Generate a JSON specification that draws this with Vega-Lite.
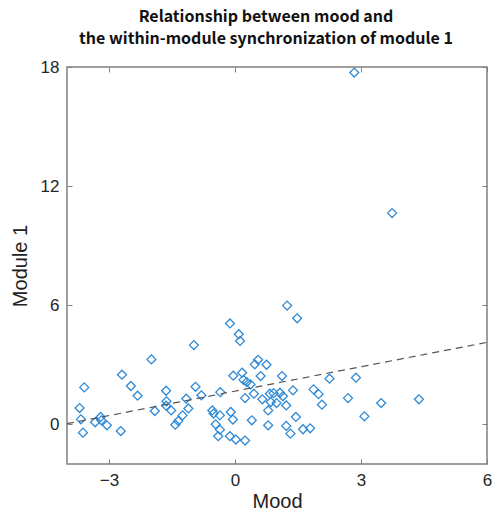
{
  "$schema": "https://vega.github.io/schema/vega-lite/v6.json",
  "width": 420,
  "height": 397,
  "autosize": {"type": "none"},
  "padding": {"left": 67, "top": 67, "right": 8, "bottom": 48},
  "background": "white",
  "config": {
    "view": {"stroke": "#808080", "strokeWidth": 1.5},
    "font": "Liberation Sans"
  },
  "title": {
    "text": ["Relationship between mood and", "the within-module synchronization of module 1"],
    "font": "Noto Sans CJK KR",
    "fontWeight": "bold",
    "fontSize": 16,
    "lineHeight": 22,
    "color": "#111111",
    "anchor": "middle",
    "frame": "group",
    "dx": -11,
    "offset": 11
  },
  "datasets": {
    "pts": [
      {"mood": -3.70, "module1": 0.82}, {"mood": -3.67, "module1": 0.25}, {"mood": -3.62, "module1": -0.42},
      {"mood": -3.59, "module1": 1.86}, {"mood": -3.33, "module1": 0.10}, {"mood": -3.20, "module1": 0.37},
      {"mood": -3.18, "module1": 0.20}, {"mood": -3.05, "module1": -0.05}, {"mood": -2.72, "module1": -0.34},
      {"mood": -2.69, "module1": 2.50}, {"mood": -2.48, "module1": 1.93}, {"mood": -2.32, "module1": 1.44},
      {"mood": -1.99, "module1": 3.27}, {"mood": -1.91, "module1": 0.67}, {"mood": -1.64, "module1": 1.69},
      {"mood": -1.63, "module1": 1.16}, {"mood": -1.64, "module1": 0.94}, {"mood": -1.52, "module1": 0.70},
      {"mood": -1.42, "module1": -0.02}, {"mood": -1.35, "module1": 0.17}, {"mood": -1.25, "module1": 0.45},
      {"mood": -1.16, "module1": 1.29}, {"mood": -1.11, "module1": 0.80}, {"mood": -0.98, "module1": 3.99},
      {"mood": -0.94, "module1": 1.89}, {"mood": -0.80, "module1": 1.46}, {"mood": -0.54, "module1": 0.70},
      {"mood": -0.51, "module1": 0.54}, {"mood": -0.46, "module1": 0.00}, {"mood": -0.36, "module1": -0.27},
      {"mood": -0.40, "module1": -0.60}, {"mood": -0.36, "module1": 0.45}, {"mood": -0.35, "module1": 1.62},
      {"mood": -0.10, "module1": 0.62}, {"mood": -0.05, "module1": 0.24}, {"mood": -0.12, "module1": -0.60},
      {"mood": 0.02, "module1": -0.77}, {"mood": 0.24, "module1": -0.82}, {"mood": -0.12, "module1": 5.08},
      {"mood": 0.09, "module1": 4.54}, {"mood": 0.12, "module1": 4.20}, {"mood": -0.04, "module1": 2.45},
      {"mood": 0.17, "module1": 2.60}, {"mood": 0.20, "module1": 2.24}, {"mood": 0.28, "module1": 2.13},
      {"mood": 0.37, "module1": 2.01}, {"mood": 0.24, "module1": 1.32}, {"mood": 0.45, "module1": 1.54},
      {"mood": 0.40, "module1": 0.20}, {"mood": 0.47, "module1": 3.02}, {"mood": 0.55, "module1": 3.25},
      {"mood": 0.61, "module1": 2.43}, {"mood": 0.75, "module1": 3.00}, {"mood": 0.65, "module1": 1.26},
      {"mood": 0.79, "module1": -0.05}, {"mood": 0.79, "module1": 0.70}, {"mood": 0.85, "module1": 1.12},
      {"mood": 0.83, "module1": 1.54}, {"mood": 0.92, "module1": 1.57}, {"mood": 1.07, "module1": 1.59},
      {"mood": 1.14, "module1": 1.41}, {"mood": 0.99, "module1": 1.07}, {"mood": 1.22, "module1": 0.95},
      {"mood": 1.12, "module1": 2.43}, {"mood": 1.24, "module1": 5.98}, {"mood": 1.48, "module1": 5.34},
      {"mood": 1.38, "module1": 1.71}, {"mood": 1.87, "module1": 1.76}, {"mood": 1.99, "module1": 1.52},
      {"mood": 2.07, "module1": 0.99}, {"mood": 2.25, "module1": 2.30}, {"mood": 2.69, "module1": 1.32},
      {"mood": 2.88, "module1": 2.35}, {"mood": 3.08, "module1": 0.40}, {"mood": 3.48, "module1": 1.07},
      {"mood": 4.38, "module1": 1.26}, {"mood": 1.45, "module1": 0.37}, {"mood": 1.22, "module1": -0.08},
      {"mood": 1.32, "module1": -0.47}, {"mood": 1.62, "module1": -0.25}, {"mood": 1.79, "module1": -0.20},
      {"mood": 2.84, "module1": 17.72}, {"mood": 3.74, "module1": 10.64}
    ],
    "fit": [
      {"mood": -4, "module1": 0.03},
      {"mood": 6, "module1": 4.13}
    ]
  },
  "resolve": {"axis": {"x": "independent", "y": "independent"}},
  "layer": [
    {
      "data": {"name": "pts"},
      "mark": {"type": "point", "shape": "diamond", "size": 80, "filled": false, "stroke": "#2f8ad6", "strokeWidth": 1.3, "opacity": 1},
      "encoding": {
        "x": {"field": "mood", "type": "quantitative", "scale": {"domain": [-4, 6], "nice": false, "zero": false},
          "axis": {"orient": "bottom", "values": [-3, 0, 3, 6], "title": "Mood", "titleFont": "Liberation Sans", "titleFontSize": 20, "titleFontWeight": "normal", "titleColor": "#222222", "titlePadding": 3,
            "labelFontSize": 17, "labelColor": "#262626", "labelPadding": 13, "labelFlush": false, "labelExpr": "replace(datum.label, '-', '−')",
            "tickSize": -5, "tickColor": "#808080", "domain": false, "grid": false}},
        "y": {"field": "module1", "type": "quantitative", "scale": {"domain": [-2, 18], "nice": false, "zero": false},
          "axis": {"orient": "left", "values": [0, 6, 12, 18], "title": "Module 1", "titleFont": "Liberation Sans", "titleFontSize": 20, "titleFontWeight": "normal", "titleColor": "#222222", "titlePadding": 10,
            "labelFontSize": 17, "labelColor": "#262626", "labelPadding": 13, "labelFlush": false,
            "tickSize": -5, "tickColor": "#808080", "domain": false, "grid": false}}
      }
    },
    {
      "data": {"name": "fit"},
      "mark": {"type": "line", "stroke": "#555555", "strokeWidth": 1.2, "strokeDash": [7, 5]},
      "encoding": {
        "x": {"field": "mood", "type": "quantitative", "scale": {"domain": [-4, 6], "nice": false, "zero": false},
          "axis": {"orient": "top", "values": [-3, 0, 3, 6], "title": null, "labels": false, "tickSize": -5, "tickColor": "#808080", "domain": false, "grid": false}},
        "y": {"field": "module1", "type": "quantitative", "scale": {"domain": [-2, 18], "nice": false, "zero": false},
          "axis": {"orient": "right", "values": [0, 6, 12, 18], "title": null, "labels": false, "tickSize": -5, "tickColor": "#808080", "domain": false, "grid": false}}
      }
    }
  ]
}
